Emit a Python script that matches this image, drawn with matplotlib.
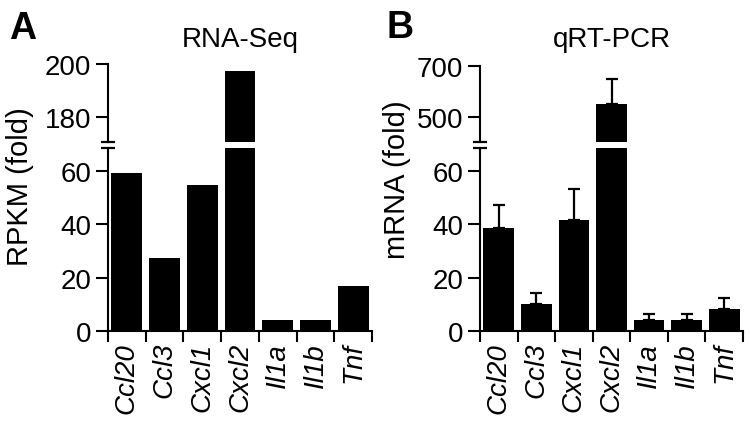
import numpy as np
import matplotlib
matplotlib.use("Agg")
import matplotlib.pyplot as plt

plt.rcParams["font.family"] = ["Liberation Sans", "DejaVu Sans"]

genes = ["Ccl20", "Ccl3", "Cxcl1", "Cxcl2", "Il1a", "Il1b", "Tnf"]
rpkm_fold = [59, 27.5, 54.5, 197.5, 4, 4, 17]
qpcr_fold = [38.5, 10, 41.5, 551, 4, 4, 8.3]
qpcr_sem = [8.5, 4.3, 11.5, 98, 2.3, 2.3, 4.2]

W, H = 750, 427
fig = plt.figure(figsize=(W / 100, H / 100), dpi=100)


def px_axes(left, top, right, bottom):
    return fig.add_axes([left / W, 1 - bottom / H, (right - left) / W, (bottom - top) / H])


def style(ax, lower):
    for s in ["top", "right"]:
        ax.spines[s].set_visible(False)
    ax.spines["left"].set_linewidth(1.5)
    ax.spines["bottom"].set_linewidth(1.5)
    ax.tick_params(axis="y", direction="out", length=9, width=1.5, labelsize=20, pad=3)
    if lower:
        ax.tick_params(axis="x", which="major", direction="out", length=8, width=1.5)
        ax.tick_params(axis="x", which="minor", length=0, pad=8)
    else:
        ax.spines["bottom"].set_visible(False)
        ax.tick_params(axis="x", which="both", bottom=False, labelbottom=False)
    ax.set_xlim(-0.5, len(genes) - 0.5)
    ax.patch.set_alpha(0)


def panel(x0, x1, top_upper, upper_lim, upper_ticks, lower_ticks, values, err=None):
    x = np.arange(len(genes))
    up = px_axes(x0, top_upper, x1, 143)
    lo = px_axes(x0, 149, x1, 332)
    for ax, lim, ticks, is_lower in [(up, upper_lim, upper_ticks, False), (lo, (0, 68.5), lower_ticks, True)]:
        if err is not None:
            ax.errorbar(x, values, yerr=[np.zeros(len(err)), err], fmt="none", ecolor="black",
                        elinewidth=1.6, capsize=4, capthick=1.6, zorder=1)
        ax.bar(x, values, width=0.82, color="black", zorder=2)
        ax.set_ylim(*lim)
        ax.set_yticks(ticks)
        style(ax, is_lower)
    lo.set_xticks(np.arange(-0.5, len(genes), 1))
    lo.set_xticklabels([])
    lo.set_xticks(x, genes, minor=True)
    for lab in lo.get_xticklabels(minor=True):
        lab.set_rotation(90)
        lab.set_fontstyle("italic")
        lab.set_fontsize(20)
    # break marks on the axis
    up.plot([0], [0], marker="_", markersize=10, mew=1.6, color="black",
            transform=up.transAxes, clip_on=False)
    lo.plot([0], [1], marker="_", markersize=10, mew=1.6, color="black",
            transform=lo.transAxes, clip_on=False)
    return up, lo


panel(108, 372, 65, (170.6, 200), [180, 200], [0, 20, 40, 60], rpkm_fold)
panel(480, 743, 67, (402, 700), [500, 700], [0, 20, 40, 60], qpcr_fold, qpcr_sem)

fig.text(240 / W, 1 - 40 / H, "RNA-Seq", ha="center", va="center", fontsize=20)
fig.text(612 / W, 1 - 40 / H, "qRT-PCR", ha="center", va="center", fontsize=20)
fig.text(20 / W, 1 - 187 / H, "RPKM (fold)", ha="center", va="center", rotation=90, fontsize=21)
fig.text(397 / W, 1 - 180 / H, "mRNA (fold)", ha="center", va="center", rotation=90, fontsize=21)
fig.text(23 / W, 1 - 29 / H, "A", ha="center", va="center", fontsize=27, fontweight="bold")
fig.text(400 / W, 1 - 28 / H, "B", ha="center", va="center", fontsize=27, fontweight="bold")

fig.savefig("out.png", dpi=100)
